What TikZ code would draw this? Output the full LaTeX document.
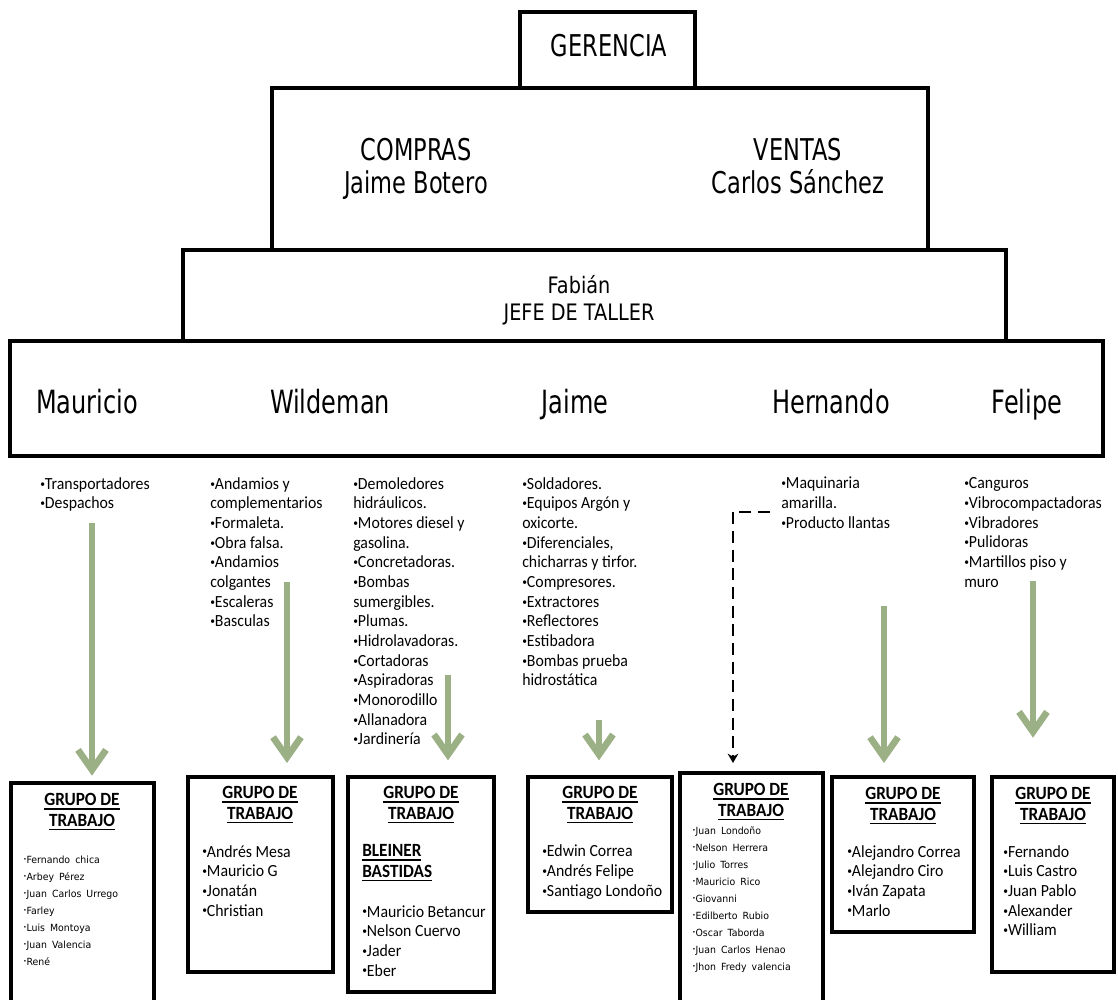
\documentclass[tikz,border=0pt]{standalone}
\usepackage{fontspec}
\usepackage{graphicx}
\usetikzlibrary{arrows.meta,fit}
\newfontfamily\hdfont[FakeStretch=0.75]{DejaVu Sans}
\newfontfamily\jefont[FakeStretch=0.85]{DejaVu Sans}
\newfontfamily\lsfont[FakeStretch=0.93]{Carlito}
\newfontfamily\ttlfont[FakeStretch=0.92]{Carlito}
\newfontfamily\smfont[WordSpace=1.7,FakeStretch=0.95]{DejaVu Sans}
\definecolor{arrowgreen}{RGB}{155,176,133}
\newcommand\bul{\raisebox{0.12em}{\scalebox{0.6}{•}}}
\newcommand\uline[1]{\leavevmode\vtop{\hbox{#1}\kern1.6pt\hrule height 1.2pt}}
% multi-line nodes are placed by the baseline of their last line
\tikzset{
  box/.style={draw, line width=3.2pt, inner sep=0pt},
  gbox/.style={draw, line width=3pt, inner sep=0pt},
  toptext/.style={inner sep=0pt, font=\hdfont\fontsize{22.5}{24.75}\selectfont, align=center},
  nametext/.style={inner sep=0pt, font=\hdfont\fontsize{24}{26}\selectfont},
  jefetext/.style={inner sep=0pt, font=\jefont\fontsize{17}{20.25}\selectfont, align=center},
  listtext/.style={inner sep=0pt, anchor=base west, align=left, font=\lsfont\fontsize{12.75}{14.75}\selectfont},
  grptitle/.style={inner sep=0pt, anchor=base, align=center, font=\ttlfont\bfseries\fontsize{14}{15.4}\selectfont},
  smalllist/.style={inner sep=0pt, anchor=base west, align=left, font=\smfont\fontsize{7.4}{12.75}\selectfont},
  garrow/.style={draw=arrowgreen, line width=5pt, -{Straight Barb[length=15pt,width=21pt]}},
  dasharrow/.style={draw=black, line width=2.2pt, dash pattern=on 9pt off 5pt, -{Stealth[length=7pt,width=8pt]}}
}
\begin{document}
\begin{tikzpicture}[x=0.75pt, y=-0.75pt]
\useasboundingbox (0,0) rectangle (1118,1000);

% stacked management boxes
\node (ger) [box, fit={(520,12) (695,88)}] {};
\node (cv)  [box, fit={(272,88) (928,250)}] {};
\node (jefe) [box, fit={(183,250) (1006,341)}] {};
\node (jefes) [box, fit={(10,341) (1103,456)}] {};

\node (gerT) [toptext, anchor=base] at (609,56) {GERENCIA};
\node (compT) [toptext, anchor=base] at (416,193) {COMPRAS\\Jaime Botero};
\node (ventT) [toptext, anchor=base] at (798,193) {VENTAS\\Carlos Sánchez};
\node (jefeT) [jefetext, anchor=base] at (579,320) {Fabián\\JEFE DE TALLER};

\node (nMau) [nametext, anchor=base] at (87,413) {Mauricio};
\node (nWil) [nametext, anchor=base] at (330,413) {Wildeman};
\node (nJai) [nametext, anchor=base] at (575,413) {Jaime};
\node (nHer) [nametext, anchor=base] at (831,413) {Hernando};
\node (nFel) [nametext, anchor=base] at (1027,413) {Felipe};

% equipment lists (first baseline at 489, 19.67 px per line)
\node (l1) [listtext] at (40,508.7) {\bul Transportadores\\\bul Despachos};
\node (l2) [listtext] at (210,626.7) {\bul Andamios y\\complementarios\\\bul Formaleta.\\\bul Obra falsa.\\\bul Andamios\\colgantes\\\bul Escaleras\\\bul Basculas};
\node (l3) [listtext] at (353,744.7) {\bul Demoledores\\hidráulicos.\\\bul Motores diesel y\\gasolina.\\\bul Concretadoras.\\\bul Bombas\\sumergibles.\\\bul Plumas.\\\bul Hidrolavadoras.\\\bul Cortadoras\\\bul Aspiradoras\\\bul Monorodillo\\\bul Allanadora\\\bul Jardinería};
\node (l4) [listtext] at (522,685.7) {\bul Soldadores.\\\bul Equipos Argón y\\oxicorte.\\\bul Diferenciales,\\chicharras y tirfor.\\\bul Compresores.\\\bul Extractores\\\bul Reflectores\\\bul Estibadora\\\bul Bombas prueba\\hidrostática};
\node (l5) [listtext] at (781,528.3) {\bul Maquinaria\\amarilla.\\\bul Producto llantas};
\node (l6) [listtext] at (964,587.3) {\bul Canguros\\\bul Vibrocompactadoras\\\bul Vibradores\\\bul Pulidoras\\\bul Martillos piso y\\muro};

% work group boxes
\node (g1) [gbox, fit={(11,783) (154,1015)}] {};
\node (g2) [gbox, fit={(188,777) (333,972)}] {};
\node (g3) [gbox, fit={(348,777) (494,992)}] {};
\node (g4) [gbox, fit={(528,777) (672,912)}] {};
\node (g5) [gbox, fit={(680,773) (823,1015)}] {};
\node (g6) [gbox, fit={(832,777) (974,932)}] {};
\node (g7) [gbox, fit={(992,777) (1114,972)}] {};

\node (t1) [grptitle] at (82,826.5) {\uline{GRUPO DE}\\\uline{TRABAJO}};
\node (t2) [grptitle] at (260,819.5) {\uline{GRUPO DE}\\\uline{TRABAJO}};
\node (t3) [grptitle] at (421,819.5) {\uline{GRUPO DE}\\\uline{TRABAJO}};
\node (t4) [grptitle] at (600,819.5) {\uline{GRUPO DE}\\\uline{TRABAJO}};
\node (t5) [grptitle] at (751,816.5) {\uline{GRUPO DE}\\\uline{TRABAJO}};
\node (t6) [grptitle] at (903,820.5) {\uline{GRUPO DE}\\\uline{TRABAJO}};
\node (t7) [grptitle] at (1053,820.5) {\uline{GRUPO DE}\\\uline{TRABAJO}};

\node (m1) [smalllist] at (23,965) {\bul Fernando chica\\\bul Arbey Pérez\\\bul Juan Carlos Urrego\\\bul Farley\\\bul Luis Montoya\\\bul Juan Valencia\\\bul René};
\node (m2) [listtext] at (202,916) {\bul Andrés Mesa\\\bul Mauricio G\\\bul Jonatán\\\bul Christian};
\node (lead3) [grptitle, anchor=base west, align=left] at (362,877.5) {\uline{BLEINER}\\\uline{BASTIDAS}};
\node (m3) [listtext] at (362,976) {\bul Mauricio Betancur\\\bul Nelson Cuervo\\\bul Jader\\\bul Eber};
\node (m4) [listtext] at (542,896.3) {\bul Edwin Correa\\\bul Andrés Felipe\\\bul Santiago Londoño};
\node (m5) [smalllist] at (692,970) {\bul Juan Londoño\\\bul Nelson Herrera\\\bul Julio Torres\\\bul Mauricio Rico\\\bul Giovanni\\\bul Edilberto Rubio\\\bul Oscar Taborda\\\bul Juan Carlos Henao\\\bul Jhon Fredy valencia};
\node (m6) [listtext] at (847,916) {\bul Alejandro Correa\\\bul Alejandro Ciro\\\bul Iván Zapata\\\bul Marlo};
\node (m7) [listtext] at (1003,935.7) {\bul Fernando\\\bul Luis Castro\\\bul Juan Pablo\\\bul Alexander\\\bul William};

% arrows from each list down to its group
\coordinate (a1) at (92,523);
\coordinate (a2) at (287,582);
\coordinate (a3) at (448,675);
\coordinate (a4) at (599,720);
\coordinate (a5) at (884,606);
\coordinate (a6) at (1033,581);
\draw[garrow, shorten >=4pt] (a1) -- (a1 |- g1.north);
\draw[garrow, shorten >=9pt] (a2) -- (a2 |- g2.north);
\draw[garrow, shorten >=11pt] (a3) -- (a3 |- g3.north);
\draw[garrow, shorten >=11pt] (a4) -- (a4 |- g4.north);
\draw[garrow, shorten >=9pt] (a5) -- (a5 |- g6.north);
\draw[garrow, shorten >=28pt] (a6) -- (a6 |- g7.north);

\coordinate (dA) at (770,512);
\coordinate (dB) at (733,512);
\draw[dasharrow, shorten >=6pt] (dA) -- (dB) -- (dB |- g5.north);
\end{tikzpicture}
\end{document}
